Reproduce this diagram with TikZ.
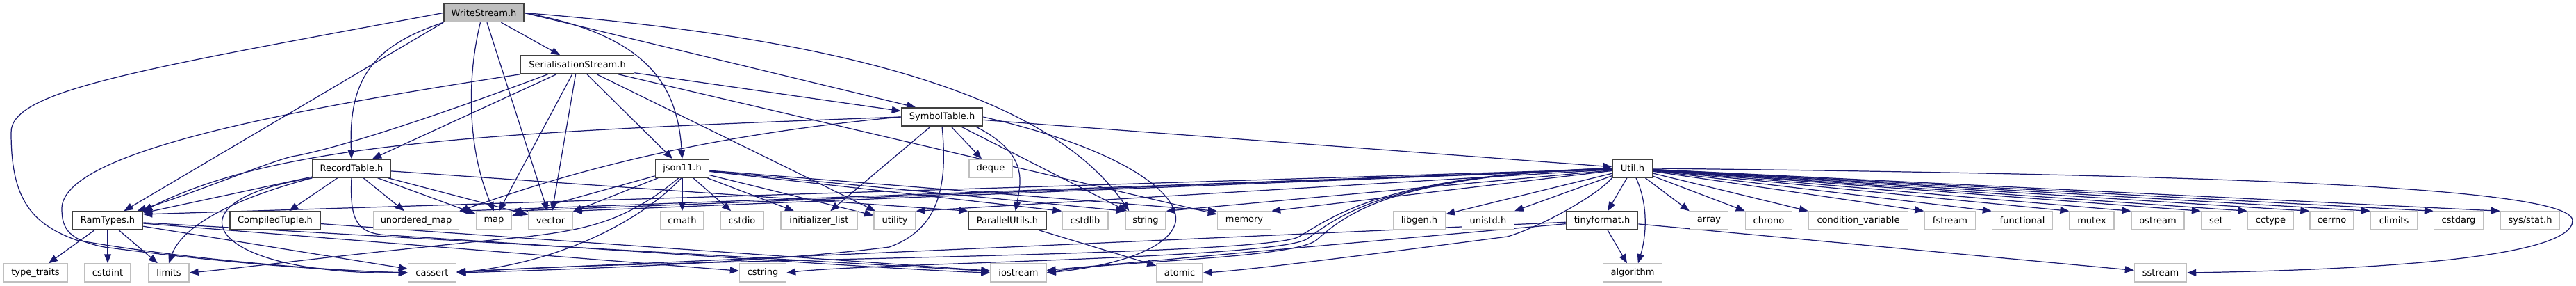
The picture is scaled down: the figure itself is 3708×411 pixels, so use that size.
\documentclass[tikz,border=0pt]{standalone}
\usepackage{fontspec}
\setmainfont{DejaVu Sans}
\usepackage{tikz}
\usetikzlibrary{arrows.meta, backgrounds}
\usepackage{xcolor}
\definecolor{edgeblue}{HTML}{191970}
\definecolor{sysgray}{HTML}{BFBFBF}
\definecolor{hdrgray}{HTML}{404040}

\begin{document}
\begin{tikzpicture}[
    x=0.02cm, y=-0.02cm,
    hdr/.style={rectangle, draw=hdrgray, fill=white, line width=0.9pt, font=\fontsize{7.4pt}{8pt}\selectfont, minimum height=0.52cm, minimum width=#1*0.02cm, inner sep=0pt},
    sys/.style={rectangle, draw=sysgray, fill=white, line width=0.8pt, font=\fontsize{7.4pt}{8pt}\selectfont, minimum height=0.52cm, minimum width=#1*0.02cm, inner sep=0pt},
    root/.style={hdr=#1, fill=sysgray},
    dep/.style={-{Triangle[length=0.26cm, width=0.2cm]}, line width=0.7pt, draw=edgeblue}
]
    \useasboundingbox (0,0) rectangle (3708,411);

    % Own headers
    \node[root=115] (ws) at (696.5,18.5) {WriteStream.h};
    \node[hdr=163] (serial) at (831,93) {SerialisationStream.h};
    \node[hdr=117] (symtab) at (1356,168) {SymbolTable.h};
    \node[hdr=112] (rectab) at (506,242) {RecordTable.h};
    \node[hdr=77] (json) at (982,242) {json11.h};
    \node[hdr=58] (util) at (2350,242) {Util.h};
    \node[hdr=101] (ramtypes) at (155,317) {RamTypes.h};
    \node[hdr=130] (ctuple) at (396,317) {CompiledTuple.h};
    \node[hdr=112] (putils) at (1450,317) {ParallelUtils.h};
    \node[hdr=103] (tinyfmt) at (2306,317) {tinyformat.h};

    % System headers, upper row
    \node[sys=62] (deque) at (1426,242) {deque};
    \node[sys=123] (umap) at (599,317) {unordered\_map};
    \node[sys=51] (map) at (711,317) {map};
    \node[sys=63] (vector) at (792.5,317) {vector};
    \node[sys=62] (cmath) at (982,317) {cmath};
    \node[sys=62] (cstdio) at (1068,317) {cstdio};
    \node[sys=110] (initlist) at (1179,317) {initializer\_list};
    \node[sys=60] (utility) at (1288,317) {utility};
    \node[sys=66] (cstdlib) at (1562,317) {cstdlib};
    \node[sys=58] (string) at (1649,317) {string};
    \node[sys=77] (memory) at (1791,317) {memory};
    \node[sys=75] (libgen) at (2043,317) {libgen.h};
    \node[sys=75] (unistd) at (2142,317) {unistd.h};
    \node[sys=55] (array) at (2460,317) {array};
    \node[sys=67] (chrono) at (2546,317) {chrono};
    \node[sys=143] (condvar) at (2675,317) {condition\_variable};
    \node[sys=74] (fstream) at (2807,317) {fstream};
    \node[sys=87] (functional) at (2911,317) {functional};
    \node[sys=64] (mutex) at (3011,317) {mutex};
    \node[sys=76] (ostream) at (3106,317) {ostream};
    \node[sys=43] (set) at (3190,317) {set};
    \node[sys=66] (cctype) at (3268.5,317) {cctype};
    \node[sys=63] (cerrno) at (3356.5,317) {cerrno};
    \node[sys=67] (climits) at (3446,317) {climits};
    \node[sys=71] (cstdarg) at (3539,317) {cstdarg};
    \node[sys=85] (sysstat) at (3642,317) {sys/stat.h};

    % System headers, lower row
    \node[sys=92] (typetraits) at (51,392) {type\_traits};
    \node[sys=66] (cstdint) at (155,392) {cstdint};
    \node[sys=58] (limits) at (243,392) {limits};
    \node[sys=69] (cassert) at (622,392) {cassert};
    \node[sys=67] (cstring) at (1098,392) {cstring};
    \node[sys=80] (iostream) at (1466,392) {iostream};
    \node[sys=66] (atomic) at (1698,392) {atomic};
    \node[sys=85] (algorithm) at (2350,392) {algorithm};
    \node[sys=75] (sstream) at (3110,392) {sstream};

    \begin{scope}[on background layer]
    % WriteStream.h
    \draw[dep] (ws.west) .. controls (200,100) and (16,130) .. (16,190) .. controls (16,280) and (40,320) .. (110,345) .. controls (250,370) and (450,388) .. (cassert.west);
    \draw[dep] (ws.south west) -- (ramtypes);
    \draw[dep] (ws.south west) .. controls (540,65) and (501,110) .. (rectab.north);
    \draw[dep] (ws.250) .. controls (670,120) and (675,220) .. (map.north);
    \draw[dep] (ws) -- (vector);
    \draw[dep] (ws) -- (serial);
    \draw[dep] (ws.east) .. controls (930,50) and (975,120) .. (json.north);
    \draw[dep] (ws.east) -- (symtab.160);
    \draw[dep] (ws.east) .. controls (1150,50) and (1500,120) .. (string.150);

    % SerialisationStream.h
    \draw[dep] (serial.south west) .. controls (400,160) and (89,220) .. (89,300) .. controls (89,330) and (100,345) .. (150,355) .. controls (300,375) and (450,388) .. (cassert.west);
    \draw[dep] (serial.198) .. controls (620,170) and (480,215) .. (420,225) .. controls (380,235) and (300,270) .. (ramtypes.18);
    \draw[dep] (serial) -- (rectab);
    \draw[dep] (serial) -- (map);
    \draw[dep] (serial) -- (vector);
    \draw[dep] (serial) -- (json);
    \draw[dep] (serial) -- (utility);
    \draw[dep] (serial) -- (memory);
    \draw[dep] (serial) -- (symtab);

    % SymbolTable.h
    \draw[dep] (symtab.west) .. controls (700,190) and (400,205) .. (ramtypes.north east);
    \draw[dep] (symtab.west) .. controls (950,200) and (760,270) .. (umap.north east);
    \draw[dep] (symtab) -- (initlist);
    \draw[dep] (symtab.south) .. controls (1365,270) and (1350,330) .. (1280,355) .. controls (1100,378) and (800,388) .. (cassert.east);
    \draw[dep] (symtab) -- (deque);
    \draw[dep] (symtab.344) .. controls (1480,220) and (1470,260) .. (putils.50);
    \draw[dep] (symtab) -- (string);
    \draw[dep] (symtab.east) .. controls (1620,215) and (1700,280) .. (1692,320) .. controls (1680,365) and (1580,385) .. (iostream.east);
    \draw[dep] (symtab) -- (util);

    % RecordTable.h
    \draw[dep] (rectab) -- (ramtypes);
    \draw[dep] (rectab) -- (ctuple);
    \draw[dep] (rectab) -- (umap);
    \draw[dep] (rectab) -- (map);
    \draw[dep] (rectab) -- (vector);
    \draw[dep] (rectab) -- (putils.north west);
    \draw[dep] (rectab.south west) .. controls (320,290) and (260,330) .. (limits.north);
    \draw[dep] (rectab.south west) .. controls (230,290) and (300,395) .. (cassert.west);
    \draw[dep] (rectab.south) .. controls (503,320) and (515,336) .. (560,338) .. controls (900,360) and (1300,388) .. (iostream.west);

    % json11.h
    \draw[dep] (json) -- (map);
    \draw[dep] (json) -- (vector);
    \draw[dep] (json) -- (cmath);
    \draw[dep] (json) -- (cstdio);
    \draw[dep] (json) -- (initlist);
    \draw[dep] (json) -- (utility);
    \draw[dep] (json) -- (cstdlib.north west);
    \draw[dep] (json) -- (string.north west);
    \draw[dep] (json) -- (memory.north west);
    \draw[dep] (json.250) .. controls (900,320) and (840,330) .. (760,340) .. controls (500,365) and (350,385) .. (limits.east);
    \draw[dep] (json.265) .. controls (930,310) and (820,375) .. (cassert.east);

    % RamTypes.h, CompiledTuple.h, ParallelUtils.h
    \draw[dep] (ramtypes) -- (typetraits);
    \draw[dep] (ramtypes) -- (cstdint);
    \draw[dep] (ramtypes) -- (limits);
    \draw[dep] (ramtypes) -- (cassert);
    \draw[dep] (ramtypes) -- (cstring);
    \draw[dep] (ramtypes) -- (iostream);
    \draw[dep] (ctuple) -- (iostream);
    \draw[dep] (putils) -- (atomic);

    % Util.h, to the left
    \draw[dep] (util) -- (ramtypes.10);
    \draw[dep] (util) -- (umap.north east);
    \draw[dep] (util) -- (map.north east);
    \draw[dep] (util) -- (vector.north east);
    \draw[dep] (util) -- (utility.north east);
    \draw[dep] (util) -- (string.north east);
    \draw[dep] (util) -- (memory.north east);
    \draw[dep] (util) -- (libgen);
    \draw[dep] (util) -- (unistd);
    \draw[dep] (util) -- (tinyfmt);
    \draw[dep] (util.290) .. controls (2375,300) and (2368,345) .. (algorithm.60);
    \draw[dep] (util.west) .. controls (2000,250) and (1920,310) .. (1870,340) .. controls (1820,370) and (900,372) .. (cassert.east);
    \draw[dep] (util.west) .. controls (2005,251) and (1930,308) .. (1882,343) .. controls (1840,372) and (1250,378) .. (cstring.east);
    \draw[dep] (util.west) .. controls (2010,252) and (1940,305) .. (1895,345) .. controls (1860,372) and (1600,375) .. (iostream.east);
    \draw[dep] (util.south west) .. controls (2300,280) and (2220,325) .. (2170,340) .. controls (2000,362) and (1800,388) .. (atomic.east);

    % Util.h, to the right
    \draw[dep] (util) -- (array.north west);
    \draw[dep] (util) -- (chrono.north west);
    \draw[dep] (util) -- (condvar.north west);
    \draw[dep] (util) -- (fstream.north west);
    \draw[dep] (util) -- (functional.north west);
    \draw[dep] (util) -- (mutex.north west);
    \draw[dep] (util) -- (ostream.north west);
    \draw[dep] (util) -- (set.north west);
    \draw[dep] (util) -- (cctype.north west);
    \draw[dep] (util) -- (cerrno.north west);
    \draw[dep] (util) -- (climits.north west);
    \draw[dep] (util) -- (cstdarg.north west);
    \draw[dep] (util) -- (sysstat.north west);
    \draw[dep] (util.east) .. controls (3100,250) and (3703,265) .. (3703,317) .. controls (3703,372) and (3400,388) .. (sstream.east);

    % tinyformat.h
    \draw[dep] (tinyfmt) -- (algorithm);
    \draw[dep] (tinyfmt) -- (iostream);
    \draw[dep] (tinyfmt) -- (cassert);
    \draw[dep] (tinyfmt) -- (sstream);
    \end{scope}

\end{tikzpicture}
\end{document}
